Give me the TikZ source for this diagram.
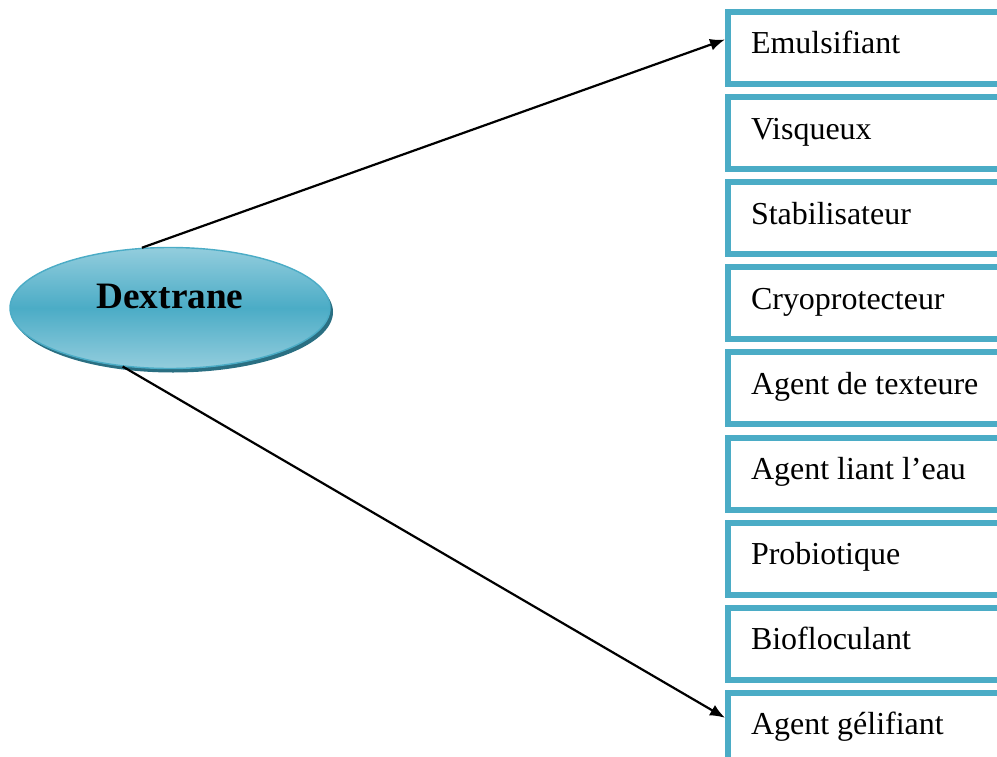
\documentclass[tikz,border=0pt]{standalone}
\usepackage{fontspec}
\setmainfont{Liberation Serif}
\usepackage{tikz}
\usetikzlibrary{shapes,arrows.meta,shadows,positioning}
\definecolor{dexblue}{HTML}{4BACC6}
\definecolor{dexlight}{HTML}{93CDDD}
\definecolor{dexdark}{HTML}{2A6F82}
\tikzset{prop/.style={rectangle, draw=dexblue, line width=0.6mm, anchor=north west,
  minimum height=7.2mm, text width=27.4mm, inner xsep=2.3mm, align=flush left,
  text height=2.0mm, text depth=0.8mm, font=\fontsize{9.1}{11}\selectfont}}
\tikzset{dex/.style={ellipse, minimum width=3.2cm, minimum height=1.21cm, inner sep=0pt,
  draw=dexblue, top color=dexlight, bottom color=dexlight, middle color=dexblue,
  drop shadow={shadow xshift=0.3mm, shadow yshift=-0.4mm, fill=dexdark, opacity=1},
  text height=1.2mm, text depth=1.2mm, font=\fontsize{10.6}{12}\selectfont\bfseries}}
\tikzset{link/.style={-{Latex[length=1.5mm,width=1.2mm]}, line width=0.22mm}}

\begin{document}
\begin{tikzpicture}
\clip (0,0) rectangle (9.97,7.56);
\node[dex] (dex) at (1.70,4.48) {Dextrane};
\foreach \lbl [count=\i] in {Emulsifiant,Visqueux,Stabilisateur,Cryoprotecteur,
  Agent de texteure,Agent liant l’eau,Probiotique,Biofloculant,Agent gélifiant}
\node[prop] (p\i) at (7.25,{7.47-0.851*(\i-1)}) {\lbl};
\draw[link] (dex.115) -- ([yshift=0.85mm]p1.west);
\draw[link] (dex.231) -- ([yshift=1.1mm]p9.west);
\end{tikzpicture}
\end{document}
